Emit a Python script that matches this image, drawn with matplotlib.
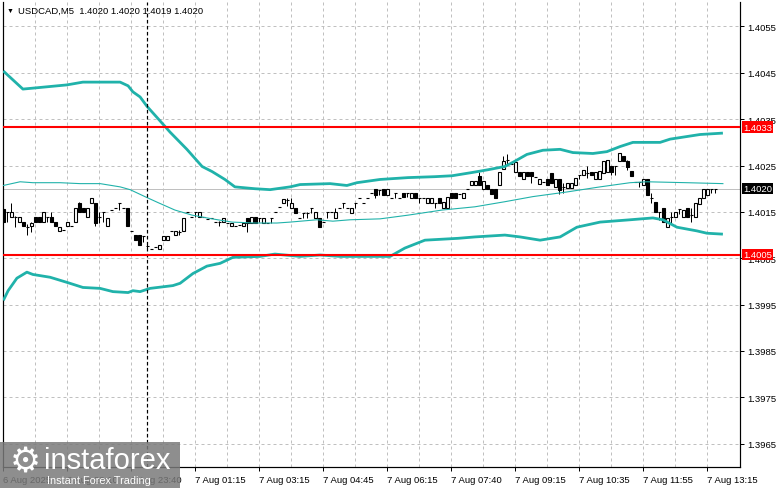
import math
import matplotlib
matplotlib.use("Agg")
import matplotlib.pyplot as plt
import numpy as np
from matplotlib.patches import Rectangle

plt.rcParams['font.family'] = ['Liberation Sans', 'DejaVu Sans']

# ---------------- data ----------------
symbol = "USDCAD"
timeframe = "M5"

opens = [1.40157,1.40150,1.40139,1.40139,1.40128,1.40128,1.40117,1.40120,1.40139,1.40139,
         1.40128,1.40139,1.40139,1.40128,1.40109,1.40111,1.40120,1.40120,1.40128,1.40170,
         1.40159,1.40139,1.40170,1.40170,1.40139,1.40150,1.40120,1.40154,1.40159,1.40170,
         1.40159,1.40159,1.40109,1.40100,1.40100,1.40098,1.40076,1.40070,1.40074,1.40070,
         1.40089,1.40089,1.40109,1.40100,1.40107,1.40109,1.40150,1.40139,1.40150,1.40139,
         1.40139,1.40135,1.40137,1.40128,1.40128,1.40128,1.40126,1.40120,1.40120,1.40122,
         1.40120,1.40137,1.40126,1.40139,1.40137,1.40126,1.40126,1.40137,1.40150,1.40161,
         1.40170,1.40176,1.40159,1.40159,1.40137,1.40148,1.40148,1.40159,1.40137,1.40137,
         1.40128,1.40150,1.40150,1.40137,1.40159,1.40170,1.40159,1.40148,1.40170,1.40180,
         1.40170,1.40180,1.40191,1.40200,1.40198,1.40200,1.40187,1.40180,1.40191,1.40180,
         1.40191,1.40191,1.40180,1.40191,1.40180,1.40180,1.40170,1.40170,1.40170,1.40180,
         1.40159,1.40159,1.40191,1.40191,1.40189,1.40180,1.40200,1.40209,1.40209,1.40228,
         1.40200,1.40209,1.40200,1.40200,1.40209,1.40243,1.40263,1.40254,1.40237,1.40237,
         1.40220,1.40237,1.40237,1.40226,1.40211,1.40215,1.40220,1.40233,1.40204,1.40220,
         1.40204,1.40202,1.40202,1.40209,1.40230,1.40230,1.40235,1.40237,1.40220,1.40220,
         1.40235,1.40237,1.40248,1.40248,1.40259,1.40270,1.40259,1.40239,1.40215,1.40215,
         1.40209,1.40220,1.40180,1.40172,1.40150,1.40159,1.40117,1.40139,1.40139,1.40157,
         1.40139,1.40159,1.40143,1.40139,1.40167,1.40180,1.40187,1.40200,1.40200]
highs = [1.40157,1.40150,1.40170,1.40141,1.40139,1.40128,1.40124,1.40128,1.40139,1.40139,
         1.40150,1.40139,1.40150,1.40128,1.40117,1.40111,1.40128,1.40120,1.40159,1.40172,
         1.40159,1.40159,1.40180,1.40170,1.40150,1.40150,1.40137,1.40154,1.40159,1.40170,
         1.40159,1.40159,1.40109,1.40100,1.40100,1.40098,1.40083,1.40070,1.40074,1.40078,
         1.40098,1.40098,1.40109,1.40109,1.40111,1.40137,1.40150,1.40139,1.40150,1.40150,
         1.40139,1.40135,1.40137,1.40128,1.40130,1.40137,1.40126,1.40126,1.40120,1.40122,
         1.40126,1.40137,1.40139,1.40139,1.40137,1.40137,1.40126,1.40137,1.40150,1.40161,
         1.40178,1.40180,1.40180,1.40159,1.40137,1.40148,1.40150,1.40159,1.40150,1.40137,
         1.40128,1.40150,1.40150,1.40159,1.40159,1.40170,1.40159,1.40159,1.40170,1.40180,
         1.40170,1.40180,1.40191,1.40200,1.40198,1.40200,1.40200,1.40180,1.40191,1.40180,
         1.40191,1.40191,1.40191,1.40191,1.40180,1.40180,1.40180,1.40180,1.40170,1.40180,
         1.40172,1.40183,1.40191,1.40191,1.40189,1.40191,1.40200,1.40217,1.40217,1.40237,
         1.40217,1.40209,1.40200,1.40200,1.40237,1.40270,1.40274,1.40254,1.40257,1.40237,
         1.40237,1.40237,1.40237,1.40226,1.40220,1.40215,1.40220,1.40233,1.40222,1.40220,
         1.40213,1.40213,1.40213,1.40224,1.40230,1.40241,1.40248,1.40237,1.40237,1.40239,
         1.40259,1.40261,1.40248,1.40248,1.40278,1.40270,1.40263,1.40239,1.40215,1.40215,
         1.40220,1.40220,1.40191,1.40172,1.40150,1.40159,1.40137,1.40150,1.40150,1.40157,
         1.40154,1.40159,1.40159,1.40170,1.40180,1.40200,1.40200,1.40200,1.40200]
lows = [1.40128,1.40128,1.40139,1.40117,1.40128,1.40120,1.40100,1.40107,1.40128,1.40128,
        1.40128,1.40128,1.40128,1.40120,1.40109,1.40111,1.40120,1.40120,1.40128,1.40150,
        1.40150,1.40139,1.40170,1.40120,1.40126,1.40128,1.40120,1.40154,1.40159,1.40154,
        1.40159,1.40120,1.40109,1.40089,1.40078,1.40085,1.40070,1.40070,1.40074,1.40070,
        1.40089,1.40089,1.40109,1.40100,1.40100,1.40109,1.40150,1.40139,1.40139,1.40139,
        1.40139,1.40135,1.40137,1.40128,1.40120,1.40128,1.40126,1.40120,1.40120,1.40122,
        1.40120,1.40107,1.40126,1.40126,1.40128,1.40126,1.40126,1.40126,1.40150,1.40161,
        1.40170,1.40163,1.40159,1.40148,1.40137,1.40137,1.40137,1.40148,1.40137,1.40117,
        1.40128,1.40137,1.40150,1.40137,1.40159,1.40159,1.40159,1.40148,1.40159,1.40180,
        1.40170,1.40180,1.40191,1.40180,1.40187,1.40187,1.40187,1.40180,1.40180,1.40180,
        1.40183,1.40183,1.40180,1.40180,1.40170,1.40180,1.40170,1.40170,1.40159,1.40170,
        1.40159,1.40159,1.40180,1.40180,1.40189,1.40180,1.40200,1.40209,1.40209,1.40209,
        1.40200,1.40200,1.40189,1.40180,1.40209,1.40243,1.40252,1.40254,1.40237,1.40228,
        1.40220,1.40228,1.40213,1.40226,1.40211,1.40215,1.40209,1.40213,1.40204,1.40189,
        1.40191,1.40202,1.40202,1.40209,1.40220,1.40230,1.40224,1.40230,1.40220,1.40220,
        1.40235,1.40237,1.40230,1.40230,1.40259,1.40259,1.40241,1.40228,1.40215,1.40204,
        1.40209,1.40187,1.40170,1.40150,1.40133,1.40128,1.40117,1.40126,1.40139,1.40146,
        1.40139,1.40139,1.40128,1.40139,1.40167,1.40180,1.40187,1.40191,1.40190]
closes = [1.40128,1.40150,1.40150,1.40139,1.40139,1.40120,1.40117,1.40126,1.40128,1.40128,
          1.40150,1.40139,1.40128,1.40120,1.40117,1.40111,1.40128,1.40120,1.40159,1.40150,
          1.40150,1.40159,1.40180,1.40126,1.40139,1.40150,1.40137,1.40154,1.40159,1.40170,
          1.40159,1.40120,1.40109,1.40089,1.40078,1.40098,1.40076,1.40070,1.40074,1.40078,
          1.40098,1.40098,1.40109,1.40109,1.40107,1.40137,1.40150,1.40139,1.40150,1.40150,
          1.40139,1.40135,1.40137,1.40128,1.40128,1.40137,1.40126,1.40126,1.40120,1.40122,
          1.40126,1.40126,1.40139,1.40126,1.40137,1.40137,1.40126,1.40137,1.40150,1.40161,
          1.40178,1.40176,1.40170,1.40148,1.40137,1.40148,1.40148,1.40159,1.40150,1.40117,
          1.40128,1.40150,1.40150,1.40150,1.40159,1.40170,1.40159,1.40159,1.40170,1.40180,
          1.40170,1.40180,1.40191,1.40187,1.40198,1.40187,1.40200,1.40180,1.40191,1.40180,
          1.40183,1.40191,1.40191,1.40180,1.40180,1.40180,1.40180,1.40180,1.40170,1.40170,
          1.40172,1.40183,1.40180,1.40180,1.40189,1.40191,1.40200,1.40217,1.40217,1.40209,
          1.40217,1.40200,1.40189,1.40180,1.40237,1.40259,1.40263,1.40254,1.40257,1.40228,
          1.40237,1.40228,1.40228,1.40226,1.40220,1.40215,1.40209,1.40213,1.40222,1.40198,
          1.40204,1.40213,1.40213,1.40224,1.40230,1.40241,1.40235,1.40230,1.40237,1.40239,
          1.40259,1.40261,1.40237,1.40248,1.40278,1.40259,1.40246,1.40228,1.40215,1.40215,
          1.40220,1.40187,1.40180,1.40150,1.40150,1.40128,1.40137,1.40139,1.40150,1.40157,
          1.40154,1.40139,1.40143,1.40170,1.40180,1.40200,1.40200,1.40200,1.40200]

# Bollinger bands (bar position, price)
upper_pos = [0, 4.9, 7.4, 15.9, 19.9, 29.2, 31.2, 32.4, 34.2, 35.9, 38.4, 41.7, 45.9, 49.7, 52.2,
             55.4, 57.9, 62.9, 66.7, 71.7, 74.2, 81.7, 85.9, 88.4, 94.2, 101.2, 107.9, 112.2,
             117.2, 121.2, 125.4, 127.4, 130.9, 134.9, 139.2, 142.4, 147.4, 150.9, 154.2, 157.4,
             164.2, 166.7, 174.2, 179.9]
upper_val = [1.40454, 1.40415, 1.40417, 1.40424, 1.40430, 1.40430, 1.40422, 1.40409, 1.40398,
             1.40378, 1.40354, 1.40322, 1.40285, 1.40248, 1.40237, 1.40220, 1.40204, 1.40200,
             1.40198, 1.40204, 1.40209, 1.40211, 1.40207, 1.40213, 1.40220, 1.40224, 1.40226,
             1.40228, 1.40235, 1.40241, 1.40248, 1.40257, 1.40274, 1.40283, 1.40285, 1.40278,
             1.40276, 1.40280, 1.40291, 1.40300, 1.40300, 1.40307, 1.40317, 1.40320]
middle_pos = [0, 4.2, 7.4, 14.2, 19.2, 24.2, 29.2, 31.7, 35.4, 38.7, 42.9, 47.2, 52.2, 57.2, 62.9,
              68.4, 71.7, 78.4, 82.4, 86.7, 94.2, 101.2, 109.7, 117.9, 125.4, 132.4, 140.9,
              149.2, 156.7, 160.9, 170.9, 179.9]
middle_val = [1.40207, 1.40215, 1.40213, 1.40213, 1.40211, 1.40211, 1.40204, 1.40198, 1.40183,
              1.40170, 1.40154, 1.40143, 1.40135, 1.40128, 1.40126, 1.40126, 1.40128, 1.40133,
              1.40130, 1.40133, 1.40135, 1.40143, 1.40154, 1.40161, 1.40172, 1.40183, 1.40193,
              1.40204, 1.40213, 1.40215, 1.40213, 1.40211]
lower_pos = [0, 1.2, 3.4, 5.9, 7.4, 11.7, 15.9, 19.9, 24.2, 27.4, 31.2, 32.4, 34.2, 36.7, 42.4,
             44.2, 47.4, 50.9, 54.2, 57.4, 64.2, 67.9, 74.2, 79.2, 84.2, 96.7, 100.4, 105.4,
             113.7, 117.9, 125.4, 129.2, 134.2, 139.2, 143.4, 149.2, 156.7, 162.4, 164.9, 168.4,
             173.4, 175.9, 179.9]
lower_val = [1.39959, 1.39980, 1.40007, 1.40020, 1.40015, 1.40009, 1.39998, 1.39987, 1.39985,
             1.39978, 1.39976, 1.39980, 1.39978, 1.39985, 1.39991, 1.39996, 1.40017, 1.40033,
             1.40039, 1.40052, 1.40054, 1.40059, 1.40054, 1.40057, 1.40054, 1.40054, 1.40072,
             1.40089, 1.40093, 1.40096, 1.40100, 1.40096, 1.40089, 1.40096, 1.40117, 1.40128,
             1.40133, 1.40137, 1.40133, 1.40117, 1.40109, 1.40104, 1.40102]

resistance = 1.40333
support = 1.40058
bid = 1.4020
separator_bar = 36

y_ticks = [1.3965, 1.3975, 1.3985, 1.3995, 1.4005, 1.4015, 1.4025, 1.4035, 1.4045, 1.4055]
x_tick_bars = [0, 16, 32, 48, 64, 80, 96, 112, 128, 144, 160, 176]
x_tick_labels = ["6 Aug 2025", "6 Aug 22:10", "6 Aug 23:40", "7 Aug 01:15", "7 Aug 03:15",
                 "7 Aug 04:45", "7 Aug 06:15", "7 Aug 07:40", "7 Aug 09:15", "7 Aug 10:35",
                 "7 Aug 11:55", "7 Aug 13:15"]

# ---------------- figure ----------------
W, H = 781, 489
fig = plt.figure(figsize=(W / 100, H / 100), dpi=100)
fig.patch.set_facecolor("white")
ax_l, ax_r, ax_t, ax_b = 3, 740, 3, 468.3
ax = fig.add_axes([ax_l / W, (H - ax_b) / H, (ax_r - ax_l) / W, (ax_b - ax_t) / H])
ax.set_facecolor("white")

px_per_bar = 4.0
first_px = 3.3
ax.set_xlim((ax_l - first_px) / px_per_bar, (ax_r - first_px) / px_per_bar)
ppu = 46350.0
ref_p, ref_y = 1.4015, 212.9
ax.set_ylim(ref_p - (ax_b - ref_y) / ppu, ref_p + (ref_y - ax_t) / ppu)

PT = 0.72  # one pixel in points

# grid
grid_kw = dict(color="#c0c0c0", lw=PT, ls=(0, (3, 3)), zorder=1)
for yv in y_ticks:
    ax.axhline(yv, **grid_kw)
for xb in range(8, 184, 8):
    ax.axvline(xb, **grid_kw)

# bid line
ax.axhline(bid, color="#c0c0c0", lw=PT, zorder=1.5)

# candles
x = np.arange(len(opens))
o = np.array(opens); h = np.array(highs); l = np.array(lows); c = np.array(closes)
ax.vlines(x, l, h, color="black", lw=PT, zorder=2)
bull = c > o
bear = c < o
doji = c == o
bw = 0.62
ax.bar(x[bull], (c - o)[bull], bottom=o[bull], width=bw, facecolor="white",
       edgecolor="black", linewidth=PT * 1.1, zorder=3)
ax.bar(x[bear], (o - c)[bear], bottom=c[bear], width=bw, facecolor="black",
       edgecolor="black", linewidth=PT * 1.1, zorder=3)
ax.hlines(o[doji], x[doji] - 0.4, x[doji] + 0.4, color="black", lw=PT * 1.1, zorder=3)

# bands
teal = "#20b2aa"
ax.plot(upper_pos, upper_val, color=teal, lw=2.0, zorder=4, solid_capstyle="butt")
ax.plot(lower_pos, lower_val, color=teal, lw=2.0, zorder=4, solid_capstyle="butt")
ax.plot(middle_pos, middle_val, color=teal, lw=PT * 1.1, zorder=4)

# separator
ax.axvline(separator_bar, color="black", lw=PT * 1.2, ls=(0, (3, 2)), zorder=4.5)

# levels
ax.axhline(resistance, color="red", lw=1.5, zorder=5)
ax.axhline(support, color="red", lw=1.5, zorder=5)

# axes styling
ax.spines["top"].set_visible(False)
for s in ["left", "right", "bottom"]:
    ax.spines[s].set_color("black")
    ax.spines[s].set_linewidth(PT * 1.2)

ax.yaxis.tick_right()
ax.set_yticks(y_ticks)
ax.set_yticklabels([f"{v:.4f}" for v in y_ticks])
ax.tick_params(axis="y", direction="out", length=3, width=PT, pad=2, labelsize=6.8,
               colors="black")
ax.set_xticks(x_tick_bars)
ax.set_xticklabels(x_tick_labels, ha="left")
ax.tick_params(axis="x", direction="out", length=3, width=PT, pad=2.5, labelsize=6.8,
               colors="black")

# price labels on right axis
def price_tag(val, text, fc):
    ax.annotate(text, xy=(1.0, val), xycoords=("axes fraction", "data"),
                xytext=(2.2, 0), textcoords="offset points", ha="left", va="center",
                fontsize=6.8, color="white", zorder=10, annotation_clip=False,
                bbox=dict(boxstyle="square,pad=0.12", fc=fc, ec="none"))

price_tag(resistance, f"{math.floor(resistance * 1e4) / 1e4:.4f}", "red")
price_tag(support, f"{math.floor(support * 1e4) / 1e4:.4f}", "red")
price_tag(bid, f"{bid:.4f}", "black")

# header
header = (f"{symbol},{timeframe}  {opens[-1]:.4f} {highs[-1]:.4f} "
          f"{lows[-1]:.4f} {closes[-1]:.4f}")
fig.text(7 / W, 1 - 11.5 / H, "\u25BC", fontsize=5, va="center", ha="left", color="black")
fig.text(18 / W, 1 - 11.5 / H, header, fontsize=6.8, va="center", ha="left", color="black")

# watermark
fig.patches.append(Rectangle((0, 0), 180 / W, 46 / H, transform=fig.transFigure,
                             facecolor="#7a7a7a", alpha=0.85, edgecolor="none", zorder=20))
fig.text(25 / W, 1 - 463 / H, "\u2699", fontsize=25, color="white", ha="center",
         va="center", family=["DejaVu Sans"], zorder=21)
fig.text(44 / W, 1 - 461 / H, "instaforex", fontsize=21, color="white", ha="left",
         va="center", zorder=21)
fig.text(47 / W, 1 - 481 / H, "Instant Forex Trading", fontsize=7.8, color="white",
         ha="left", va="center", zorder=21)

fig.savefig("out.png", dpi=100, facecolor="white")
